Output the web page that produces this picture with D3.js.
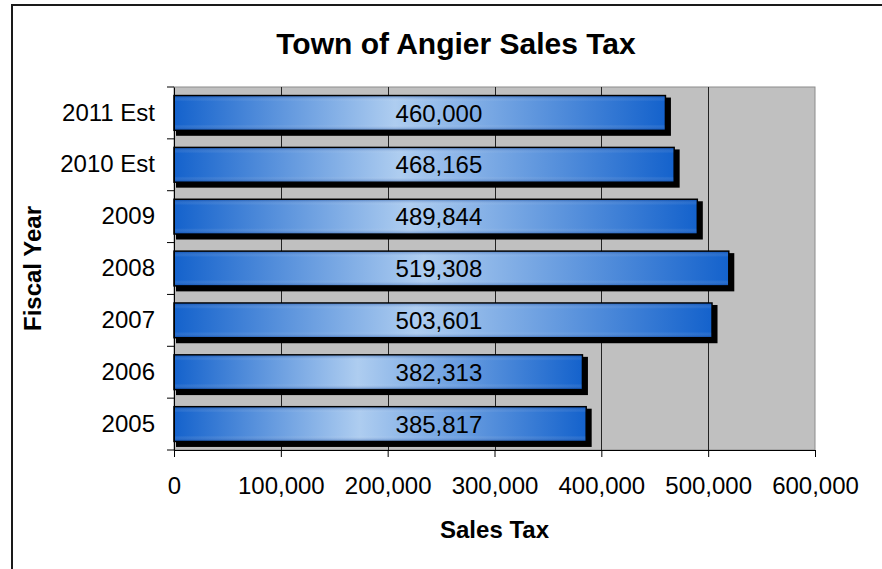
<!DOCTYPE html>
<html>
<head>
<meta charset="utf-8">
<script src="https://d3js.org/d3.v7.min.js"></script>
<style>
  body { margin: 0; background: #fff; }
  svg { display: block; font-family: "Liberation Sans", Arial, sans-serif; }
</style>
</head>
<body>
<script>
// chart data
var years = ['2011 Est', '2010 Est', '2009', '2008', '2007', '2006', '2005'];
var salesTax = [460000, 468165, 489844, 519308, 503601, 382313, 385817];
var xTicks = [0, 100000, 200000, 300000, 400000, 500000, 600000];

var W = 882, H = 569;
var plot = { left: 174, right: 815, top: 87, bottom: 450 };
// value labels sit near the middle of the axis, not the middle of each bar
var labelAt = 248000;

var svg = d3.select('body').append('svg')
  .attr('width', W)
  .attr('height', H);

// gradient for the bars
var defs = svg.append('defs');
var grad = defs.append('linearGradient')
  .attr('id', 'barGrad')
  .attr('x1', '0%').attr('y1', '0%')
  .attr('x2', '100%').attr('y2', '0%');
grad.append('stop').attr('offset', '0%').attr('stop-color', '#1462cc');
grad.append('stop').attr('offset', '45%').attr('stop-color', '#aecdf0');
grad.append('stop').attr('offset', '100%').attr('stop-color', '#1462cc');

var shine = defs.append('linearGradient')
  .attr('id', 'barShine')
  .attr('x1', '0%').attr('y1', '0%')
  .attr('x2', '0%').attr('y2', '100%');
shine.append('stop').attr('offset', '0%').attr('stop-color', '#0a3f99').attr('stop-opacity', 0.35);
shine.append('stop').attr('offset', '15%').attr('stop-color', '#ffffff').attr('stop-opacity', 0);
shine.append('stop').attr('offset', '85%').attr('stop-color', '#ffffff').attr('stop-opacity', 0);
shine.append('stop').attr('offset', '100%').attr('stop-color', '#0a3f99').attr('stop-opacity', 0.35);

// outer frame
svg.append('rect')
  .attr('x', 12).attr('y', 5)
  .attr('width', W + 20).attr('height', H + 20)
  .attr('fill', 'none')
  .attr('stroke', '#1a1a1a')
  .attr('stroke-width', 2);

var x = d3.scaleLinear()
  .domain([0, 600000])
  .range([plot.left, plot.right]);

var y = d3.scaleBand()
  .domain(years)
  .range([plot.top, plot.bottom])
  .paddingInner(0.33)
  .paddingOuter(0.165);

// plot background
svg.append('rect')
  .attr('x', plot.left).attr('y', plot.top)
  .attr('width', plot.right - plot.left)
  .attr('height', plot.bottom - plot.top)
  .attr('fill', '#c0c0c0')
  .attr('stroke', '#8c8c8c')
  .attr('stroke-width', 1);

// gridlines
svg.append('g')
  .selectAll('line')
  .data(xTicks.slice(1, -1))
  .enter().append('line')
  .attr('x1', function(d) { return Math.round(x(d)) + 0.5; })
  .attr('x2', function(d) { return Math.round(x(d)) + 0.5; })
  .attr('y1', plot.top)
  .attr('y2', plot.bottom)
  .attr('stroke', '#222')
  .attr('stroke-width', 1);

// bars: shadow, body, shine
var bars = svg.append('g').selectAll('g')
  .data(years)
  .enter().append('g');

bars.append('rect')
  .attr('x', plot.left + 2)
  .attr('y', function(d) { return y(d) + 2; })
  .attr('width', function(d, i) { return x(salesTax[i]) - plot.left + 3.5; })
  .attr('height', y.bandwidth() + 3.5)
  .attr('fill', '#000');

bars.append('rect')
  .attr('x', plot.left)
  .attr('y', function(d) { return y(d); })
  .attr('width', function(d, i) { return x(salesTax[i]) - plot.left; })
  .attr('height', y.bandwidth())
  .attr('fill', 'url(#barGrad)')
  .attr('stroke', '#000')
  .attr('stroke-width', 1.5);

bars.append('rect')
  .attr('x', plot.left + 0.75)
  .attr('y', function(d) { return y(d) + 0.75; })
  .attr('width', function(d, i) { return x(salesTax[i]) - plot.left - 1.5; })
  .attr('height', y.bandwidth() - 1.5)
  .attr('fill', 'url(#barShine)');

bars.append('text')
  .attr('x', x(labelAt))
  .attr('y', function(d) { return y(d) + y.bandwidth() / 2; })
  .attr('dy', '0.36em')
  .attr('text-anchor', 'middle')
  .attr('font-size', 24)
  .attr('fill', '#000')
  .text(function(d, i) { return d3.format(',')(salesTax[i]); });

// x axis
var xAxis = svg.append('g')
  .attr('transform', 'translate(0,' + plot.bottom + ')')
  .call(d3.axisBottom(x).tickValues(xTicks).tickSize(7).tickPadding(20).tickFormat(d3.format(',')));
xAxis.select('.domain').attr('stroke', '#000');
xAxis.selectAll('.tick line').attr('stroke', '#000');
xAxis.selectAll('text')
  .attr('font-size', 24)
  .attr('font-family', '"Liberation Sans", Arial, sans-serif')
  .attr('fill', '#000');

// y axis
var yAxis = svg.append('g')
  .attr('transform', 'translate(' + plot.left + ',0)')
  .call(d3.axisLeft(y).tickSize(0).tickPadding(19));
yAxis.select('.domain').attr('stroke', '#000');
yAxis.selectAll('text')
  .attr('font-size', 24)
  .attr('font-family', '"Liberation Sans", Arial, sans-serif')
  .attr('fill', '#000');

// category separator ticks
svg.append('g')
  .selectAll('line')
  .data(d3.range(years.length + 1))
  .enter().append('line')
  .attr('x1', plot.left - 7)
  .attr('x2', plot.left)
  .attr('y1', function(d) { return plot.top + d * (plot.bottom - plot.top) / years.length; })
  .attr('y2', function(d) { return plot.top + d * (plot.bottom - plot.top) / years.length; })
  .attr('stroke', '#000');

// titles
svg.append('text')
  .attr('x', 456).attr('y', 54)
  .attr('text-anchor', 'middle')
  .attr('font-size', 30)
  .attr('font-weight', 'bold')
  .text('Town of Angier Sales Tax');

svg.append('text')
  .attr('x', (plot.left + plot.right) / 2).attr('y', 538)
  .attr('text-anchor', 'middle')
  .attr('font-size', 24)
  .attr('font-weight', 'bold')
  .text('Sales Tax');

svg.append('text')
  .attr('transform', 'translate(41,' + (plot.top + plot.bottom) / 2 + ') rotate(-90)')
  .attr('text-anchor', 'middle')
  .attr('font-size', 24)
  .attr('font-weight', 'bold')
  .text('Fiscal Year');
</script>
</body>
</html>
